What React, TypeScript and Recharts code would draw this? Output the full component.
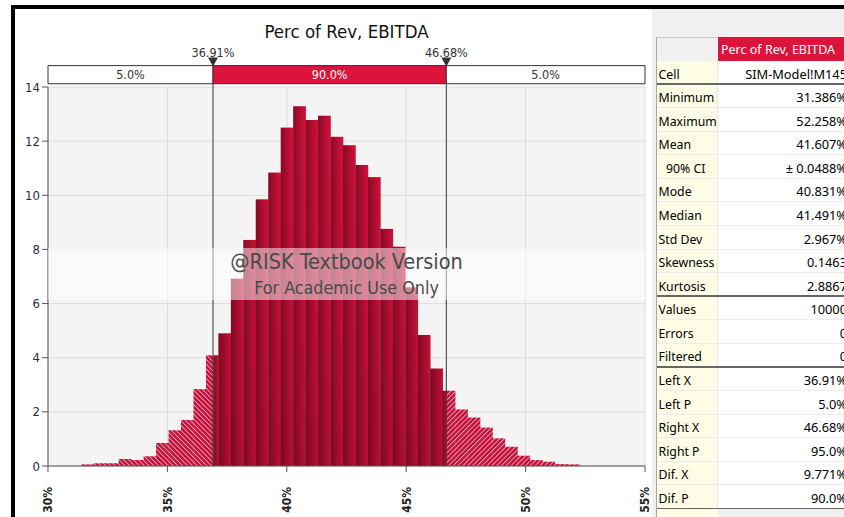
import React from "react";
import { ComposedChart, Bar, XAxis, YAxis, CartesianGrid, ReferenceArea, ReferenceLine, ReferenceDot } from "recharts";

// histogram bin edges (40 bins, min to max)
const binEdges = [
  31.386, 31.908, 32.43, 32.951, 33.473, 33.995, 34.517, 35.039, 35.56, 36.082,
  36.604, 37.126, 37.648, 38.169, 38.691, 39.213, 39.735, 40.257, 40.778, 41.3,
  41.822, 42.344, 42.866, 43.387, 43.909, 44.431, 44.953, 45.475, 45.996, 46.518,
  47.04, 47.562, 48.084, 48.605, 49.127, 49.649, 50.171, 50.693, 51.214, 51.736, 52.258,
];

const density = [
  0.06, 0.1, 0.1, 0.26, 0.22, 0.36, 0.85, 1.32, 1.7, 2.84,
  4.09, 4.9, 6.92, 8.35, 9.85, 10.84, 12.5, 13.29, 12.78, 12.94,
  12.16, 11.85, 11.12, 10.67, 8.76, 8.1, 6.6, 4.84, 3.6, 2.78,
  2.09, 1.79, 1.42, 1.02, 0.71, 0.38, 0.22, 0.16, 0.07, 0.06,
];

const xTicks = [30, 35, 40, 45, 50, 55];
const yTicks = [0, 2, 4, 6, 8, 10, 12, 14];

const leftX = 36.91;
const rightX = 46.68;
const leftP = "5.0%";
const midP = "90.0%";
const rightP = "5.0%";

const statRows = [
  ["Cell", "SIM-Model!M145"],
  ["Minimum", "31.386%"],
  ["Maximum", "52.258%"],
  ["Mean", "41.607%"],
  ["90% CI", "± 0.0488%"],
  ["Mode", "40.831%"],
  ["Median", "41.491%"],
  ["Std Dev", "2.967%"],
  ["Skewness", "0.1463"],
  ["Kurtosis", "2.8867"],
  ["Values", "10000"],
  ["Errors", "0"],
  ["Filtered", "0"],
  ["Left X", "36.91%"],
  ["Left P", "5.0%"],
  ["Right X", "46.68%"],
  ["Right P", "95.0%"],
  ["Dif. X", "9.771%"],
  ["Dif. P", "90.0%"],
];
const thickAfter = [0, 9, 12, 18];

const data = density.map((d, i) => ({
  lo: binEdges[i],
  hi: binEdges[i + 1],
  mid: (binEdges[i] + binEdges[i + 1]) / 2,
  density: d,
}));

const chartFont = "'DejaVu Sans Condensed', 'DejaVu Sans', sans-serif";
const tableFont = "'Noto Sans', 'Open Sans', sans-serif";
const crimson = "#dc143c";

const W = 652;
const H = 517;
const plotLeft = 48;
const plotRight = 645;
const barPx = ((plotRight - plotLeft) * (binEdges[1] - binEdges[0])) / 25;

function BinShape(props: any) {
  const { x, y, width, height, payload } = props;
  if (!height || height <= 0) return null;
  const span = payload.hi - payload.lo;
  const cx = x + width / 2;
  const left = cx - barPx / 2 - 0.15;
  const w = barPx + 0.3;
  const right = left + w;
  const rects: any[] = [];
  let s = left;
  let e = right;
  if (payload.hi <= leftX) {
    rects.push(<rect key="l" x={left} y={y} width={w} height={height} fill="url(#hatchL)" />);
  } else if (payload.lo >= rightX) {
    rects.push(<rect key="r" x={left} y={y} width={w} height={height} fill="url(#hatchR)" />);
  } else {
    if (payload.lo < leftX) s = left + ((leftX - payload.lo) / span) * w;
    if (payload.hi > rightX) e = left + ((rightX - payload.lo) / span) * w;
    if (s > left) rects.push(<rect key="l" x={left} y={y} width={s - left} height={height} fill="url(#hatchL)" />);
    rects.push(<rect key="s" x={s} y={y} width={e - s} height={height} fill="url(#solidGrad)" />);
    rects.push(<rect key="d" x={s} y={y} width={e - s} height={height} fill="url(#shadeGrad)" />);
    if (e < right) rects.push(<rect key="r" x={e} y={y} width={right - e} height={height} fill="url(#hatchR)" />);
  }
  return <g>{rects}</g>;
}

function XTick(props: any) {
  const { x, payload } = props;
  return (
    <g transform={`translate(${x},${487})`}>
      <text transform="rotate(-90)" textAnchor="end" dy="0.36em" fontSize={12} fontWeight="bold" fill="#222" fontFamily={chartFont}>
        {payload.value}%
      </text>
    </g>
  );
}

function Marker(props: any) {
  const { cx, cy, value } = props;
  return (
    <g>
      <path d={`M${cx - 5},${cy - 8} L${cx + 5},${cy - 8} L${cx},${cy + 1} Z`} fill="#333" />
      <text x={cx} y={cy - 8.5} textAnchor="middle" fontSize={12.5} fill="#333" fontFamily={chartFont}>
        {value}
      </text>
    </g>
  );
}

export default function App() {
  const rowH = 23.58;
  const tableTop = 61;
  return (
    <div style={{ position: "absolute", left: 0, top: 0, width: 844, height: 517, background: "#fff", overflow: "hidden" }}>
      <div style={{ position: "absolute", left: 652, top: 9, width: 192, height: 508, background: "#f0f0f0" }} />
      <div style={{ position: "absolute", left: 0, top: 0 }}>
        <ComposedChart
          width={W}
          height={H}
          data={data}
          margin={{ top: 87, right: W - plotRight, left: 0, bottom: 11 }}
          barCategoryGap={0}
          barGap={0}
        >
          <defs>
            <linearGradient id="solidGrad" x1="0" y1="0" x2="1" y2="0">
              <stop offset="0%" stopColor="#8a0a25" />
              <stop offset="55%" stopColor="#b80e33" />
              <stop offset="100%" stopColor="#d8123c" />
            </linearGradient>
            <linearGradient id="shadeGrad" gradientUnits="userSpaceOnUse" x1="0" y1="87" x2="0" y2="466">
              <stop offset="0%" stopColor="#000" stopOpacity={0} />
              <stop offset="100%" stopColor="#000" stopOpacity={0.14} />
            </linearGradient>
            <pattern id="hatchL" width="3.4" height="3.4" patternUnits="userSpaceOnUse" patternTransform="rotate(-45)">
              <rect width="3.4" height="3.4" fill="#c4103a" />
              <rect width="0.9" height="3.4" fill="#f2a6b8" />
            </pattern>
            <pattern id="hatchR" width="3.4" height="3.4" patternUnits="userSpaceOnUse" patternTransform="rotate(45)">
              <rect width="3.4" height="3.4" fill="#c4103a" />
              <rect width="0.9" height="3.4" fill="#f2a6b8" />
            </pattern>
          </defs>
          <CartesianGrid stroke="#dcdcdc" fill="#f4f4f4" verticalValues={xTicks} horizontalValues={yTicks} />
          <XAxis
            type="number"
            dataKey="mid"
            domain={[30, 55]}
            ticks={xTicks}
            interval={0}
            height={40}
            stroke="#555"
            tickSize={6}
            tick={<XTick />}
            allowDataOverflow
          />
          <YAxis
            type="number"
            domain={[0, 14]}
            ticks={yTicks}
            interval={0}
            width={plotLeft}
            stroke="#555"
            tickSize={6}
            tickMargin={2}
            tick={{ fill: "#2b2b45", fontSize: 13, fontFamily: chartFont }}
            allowDataOverflow
          />
          <Bar dataKey="density" barSize={barPx} shape={<BinShape />} isAnimationActive={false} />
          <ReferenceLine segment={[{ x: leftX, y: 0 }, { x: leftX, y: 14.12 }]} stroke="#333" ifOverflow="visible" />
          <ReferenceLine segment={[{ x: rightX, y: 0 }, { x: rightX, y: 14.12 }]} stroke="#333" ifOverflow="visible" />
          <ReferenceArea
            x1={30}
            x2={leftX}
            y1={14.12}
            y2={14.79}
            ifOverflow="visible"
            fill="#fff"
            fillOpacity={1}
            stroke="#333"
            label={{ value: leftP, position: "center", fill: "#333", fontSize: 12.5, fontFamily: chartFont }}
          />
          <ReferenceArea
            x1={leftX}
            x2={rightX}
            y1={14.12}
            y2={14.79}
            ifOverflow="visible"
            fill={crimson}
            fillOpacity={1}
            stroke="#333"
            label={{ value: midP, position: "center", fill: "#fff", fontSize: 12.5, fontFamily: chartFont }}
          />
          <ReferenceArea
            x1={rightX}
            x2={55}
            y1={14.12}
            y2={14.79}
            ifOverflow="visible"
            fill="#fff"
            fillOpacity={1}
            stroke="#333"
            label={{ value: rightP, position: "center", fill: "#333", fontSize: 12.5, fontFamily: chartFont }}
          />
          <ReferenceDot x={leftX} y={14.79} ifOverflow="visible" shape={(p: any) => <Marker {...p} value={`${leftX}%`} />} />
          <ReferenceDot x={rightX} y={14.79} ifOverflow="visible" shape={(p: any) => <Marker {...p} value={`${rightX}%`} />} />
        </ComposedChart>
      </div>

      {/* watermark */}
      <div style={{ position: "absolute", left: plotLeft, top: 248, width: plotRight - plotLeft, height: 52, background: "rgba(255,255,255,0.5)" }} />
      <div style={{ position: "absolute", left: plotLeft, top: 249, width: plotRight - plotLeft, textAlign: "center", fontFamily: chartFont, color: "#4a4a4a", fontSize: 21.5, lineHeight: "26px" }}>
        @RISK Textbook Version
      </div>
      <div style={{ position: "absolute", left: plotLeft, top: 277, width: plotRight - plotLeft, textAlign: "center", fontFamily: chartFont, color: "#4a4a4a", fontSize: 17.8, lineHeight: "22px" }}>
        For Academic Use Only
      </div>

      {/* title */}
      <div style={{ position: "absolute", left: plotLeft, top: 20, width: plotRight - plotLeft, textAlign: "center", fontFamily: chartFont, color: "#111", fontSize: 18.5, lineHeight: "24px" }}>
        Perc of Rev, EBITDA
      </div>

      {/* frame */}
      <div style={{ position: "absolute", left: 11, top: 5, width: 833, height: 4, background: "#000" }} />
      <div style={{ position: "absolute", left: 11, top: 5, width: 4, height: 512, background: "#000" }} />

      {/* stats table */}
      <div style={{ position: "absolute", left: 656, top: 37, width: 62, height: 24, background: "#f0f0f0", borderTop: "1px solid #c8c8c8", borderLeft: "1px solid #a8a8a8", boxSizing: "border-box" }} />
      <div style={{ position: "absolute", left: 718, top: 37, width: 132, height: 24, background: crimson, color: "#fff", fontFamily: tableFont, fontSize: 12.5, lineHeight: "24px", paddingLeft: 3, paddingTop: 1, boxSizing: "border-box", whiteSpace: "nowrap" }}>
        Perc of Rev, EBITDA
      </div>
      {statRows.map((r, i) => {
        const top = tableTop + i * rowH;
        const thick = thickAfter.includes(i);
        return (
          <React.Fragment key={r[0]}>
            <div
              style={{
                position: "absolute",
                left: 656,
                top,
                width: 62,
                height: rowH,
                background: "#fffde6",
                borderLeft: "1px solid #a8a8a8",
                borderRight: "1px solid #e8e8e0",
                boxSizing: "border-box",
                fontFamily: tableFont,
                fontSize: 12.3,
                lineHeight: `${rowH}px`,
                paddingLeft: r[0] === "90% CI" ? 9 : 1.5,
                paddingTop: 1.5,
                color: "#000",
                whiteSpace: "nowrap",
                overflow: "hidden",
              }}
            >
              {r[0]}
            </div>
            <div
              style={{
                position: "absolute",
                left: 718,
                top,
                width: 132,
                height: rowH,
                background: "#fff",
                boxSizing: "border-box",
                fontFamily: tableFont,
                fontSize: 12.8,
                lineHeight: `${rowH}px`,
                paddingRight: 3,
                paddingTop: 1.5,
                textAlign: "right",
                color: "#000",
                whiteSpace: "nowrap",
              }}
            >
              {r[1]}
            </div>
            <div
              style={{
                position: "absolute",
                left: 657,
                top: top + rowH - (thick ? 1.5 : 1),
                width: 190,
                height: thick ? 1.5 : 1,
                background: thick ? "#666" : "#ececec",
              }}
            />
          </React.Fragment>
        );
      })}
      <div style={{ position: "absolute", left: 656, top: tableTop + statRows.length * rowH, width: 62, height: 20, background: "#fffde6", borderLeft: "1px solid #a8a8a8", boxSizing: "border-box" }} />
    </div>
  );
}
